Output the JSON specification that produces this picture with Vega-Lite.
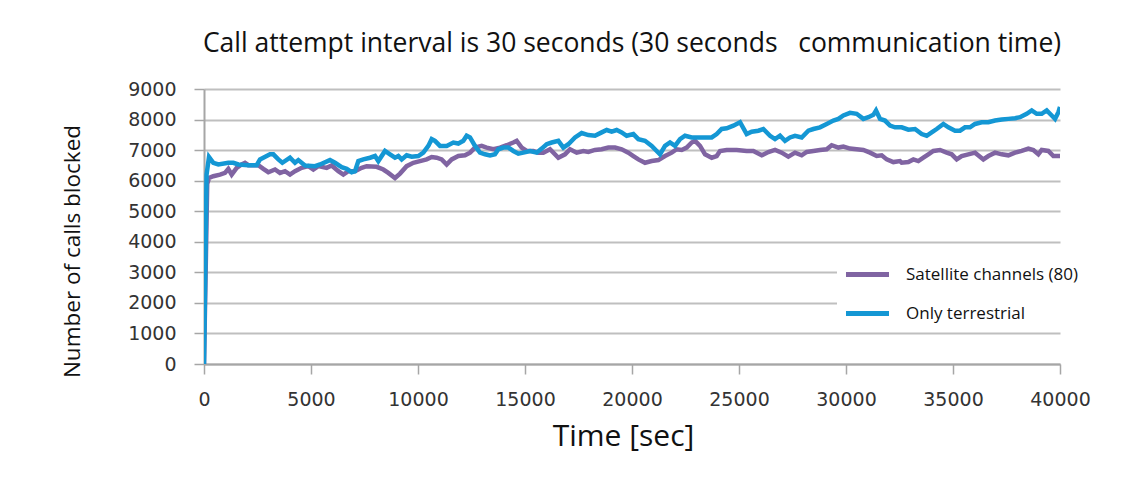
{
  "$schema": "https://vega.github.io/schema/vega-lite/v6.json",
  "width": 856,
  "height": 275,
  "autosize": {"type": "none"},
  "padding": {"left": 204, "top": 89, "right": 66, "bottom": 115},
  "background": "white",
  "title": {
    "text": "Call attempt interval is 30 seconds (30 seconds\u00a0\u00a0 communication time)",
    "font": "Open Sans",
    "fontSize": 26.5,
    "fontWeight": "normal",
    "color": "#111111",
    "anchor": "middle",
    "offset": 23
  },
  "config": {
    "view": {"stroke": null},
    "axis": {
      "labelFont": "DejaVu Sans",
      "labelFontSize": 19,
      "labelColor": "#333333",
      "tickColor": "#a6a6a6",
      "tickWidth": 1.5,
      "tickSize": 10,
      "domainColor": "#a6a6a6",
      "domainWidth": 2,
      "titleFont": "Open Sans",
      "titleFontWeight": "normal",
      "titleColor": "#111111",
      "labelFlush": false
    }
  },
  "datasets": {
    "sat": [
      {"t":0,"v":0},{"t":150,"v":5900},{"t":234,"v":6088},{"t":436,"v":6144},{"t":748,"v":6199},{"t":981,"v":6254},{"t":1137,"v":6387},{"t":1293,"v":6199},{"t":1526,"v":6420},{"t":1760,"v":6530},{"t":1916,"v":6586},{"t":2072,"v":6508},{"t":2539,"v":6508},{"t":2773,"v":6387},{"t":3006,"v":6276},{"t":3318,"v":6365},{"t":3551,"v":6254},{"t":3785,"v":6309},{"t":4019,"v":6199},{"t":4252,"v":6309},{"t":4564,"v":6420},{"t":4876,"v":6475},{"t":5109,"v":6365},{"t":5343,"v":6475},{"t":5732,"v":6420},{"t":5966,"v":6497},{"t":6278,"v":6309},{"t":6511,"v":6199},{"t":6745,"v":6309},{"t":7056,"v":6309},{"t":7368,"v":6420},{"t":7601,"v":6475},{"t":8069,"v":6453},{"t":8380,"v":6365},{"t":8614,"v":6254},{"t":8925,"v":6088},{"t":9159,"v":6232},{"t":9470,"v":6475},{"t":9782,"v":6586},{"t":10093,"v":6641},{"t":10405,"v":6696},{"t":10639,"v":6773},{"t":10872,"v":6751},{"t":11106,"v":6696},{"t":11340,"v":6530},{"t":11573,"v":6696},{"t":11885,"v":6806},{"t":12197,"v":6829},{"t":12430,"v":6917},{"t":12664,"v":7083},{"t":12976,"v":7138},{"t":13209,"v":7083},{"t":13521,"v":7028},{"t":13832,"v":7083},{"t":14144,"v":7160},{"t":14455,"v":7249},{"t":14611,"v":7304},{"t":14845,"v":7083},{"t":15078,"v":6972},{"t":15390,"v":6972},{"t":15623,"v":6917},{"t":15857,"v":6917},{"t":16169,"v":7028},{"t":16558,"v":6751},{"t":16870,"v":6862},{"t":17103,"v":7028},{"t":17415,"v":6917},{"t":17727,"v":6972},{"t":17960,"v":6939},{"t":18271,"v":7005},{"t":18583,"v":7028},{"t":18895,"v":7083},{"t":19206,"v":7083},{"t":19518,"v":7028},{"t":19829,"v":6917},{"t":20063,"v":6806},{"t":20297,"v":6696},{"t":20608,"v":6586},{"t":20920,"v":6641},{"t":21231,"v":6674},{"t":21543,"v":6806},{"t":21854,"v":6917},{"t":22088,"v":7028},{"t":22322,"v":7005},{"t":22555,"v":7083},{"t":22789,"v":7249},{"t":22945,"v":7304},{"t":23178,"v":7138},{"t":23412,"v":6862},{"t":23724,"v":6751},{"t":23957,"v":6806},{"t":24113,"v":6972},{"t":24425,"v":7005},{"t":24892,"v":7005},{"t":25359,"v":6972},{"t":25671,"v":6972},{"t":26060,"v":6829},{"t":26372,"v":6939},{"t":26683,"v":7005},{"t":26995,"v":6917},{"t":27306,"v":6784},{"t":27618,"v":6917},{"t":27929,"v":6829},{"t":28163,"v":6939},{"t":28475,"v":6972},{"t":28786,"v":7005},{"t":29098,"v":7028},{"t":29331,"v":7160},{"t":29643,"v":7083},{"t":29877,"v":7116},{"t":30188,"v":7050},{"t":30500,"v":7028},{"t":30811,"v":7005},{"t":31123,"v":6917},{"t":31434,"v":6806},{"t":31668,"v":6829},{"t":31902,"v":6696},{"t":32213,"v":6608},{"t":32524,"v":6641},{"t":32603,"v":6586},{"t":32914,"v":6608},{"t":33148,"v":6696},{"t":33381,"v":6641},{"t":33615,"v":6751},{"t":33849,"v":6862},{"t":34082,"v":6972},{"t":34394,"v":7005},{"t":34705,"v":6917},{"t":34939,"v":6862},{"t":35173,"v":6696},{"t":35406,"v":6806},{"t":35718,"v":6862},{"t":36029,"v":6917},{"t":36419,"v":6696},{"t":36653,"v":6806},{"t":36964,"v":6917},{"t":37276,"v":6862},{"t":37587,"v":6829},{"t":37899,"v":6917},{"t":38210,"v":6972},{"t":38522,"v":7050},{"t":38755,"v":7005},{"t":38989,"v":6862},{"t":39145,"v":7005},{"t":39456,"v":6972},{"t":39690,"v":6806},{"t":40000,"v":6806}
    ],
    "ter": [
      {"t":0,"v":0},{"t":120,"v":6200},{"t":234,"v":6773},{"t":436,"v":6586},{"t":670,"v":6530},{"t":1137,"v":6586},{"t":1371,"v":6586},{"t":1604,"v":6530},{"t":2072,"v":6508},{"t":2461,"v":6508},{"t":2617,"v":6696},{"t":3084,"v":6862},{"t":3240,"v":6862},{"t":3474,"v":6696},{"t":3661,"v":6586},{"t":4019,"v":6751},{"t":4252,"v":6586},{"t":4408,"v":6674},{"t":4720,"v":6497},{"t":5187,"v":6475},{"t":5421,"v":6530},{"t":5888,"v":6674},{"t":6122,"v":6586},{"t":6433,"v":6442},{"t":6667,"v":6387},{"t":6901,"v":6276},{"t":7056,"v":6309},{"t":7212,"v":6641},{"t":7446,"v":6696},{"t":7757,"v":6751},{"t":7991,"v":6806},{"t":8146,"v":6641},{"t":8458,"v":6972},{"t":8692,"v":6862},{"t":8925,"v":6751},{"t":9081,"v":6806},{"t":9237,"v":6696},{"t":9470,"v":6829},{"t":9704,"v":6784},{"t":10016,"v":6806},{"t":10249,"v":6917},{"t":10483,"v":7138},{"t":10639,"v":7359},{"t":10794,"v":7304},{"t":11028,"v":7138},{"t":11340,"v":7138},{"t":11651,"v":7249},{"t":11885,"v":7215},{"t":12119,"v":7304},{"t":12274,"v":7470},{"t":12430,"v":7414},{"t":12664,"v":7138},{"t":12897,"v":6917},{"t":13131,"v":6862},{"t":13365,"v":6829},{"t":13598,"v":6862},{"t":13754,"v":7028},{"t":13988,"v":7083},{"t":14222,"v":7083},{"t":14455,"v":6972},{"t":14689,"v":6884},{"t":14922,"v":6917},{"t":15234,"v":6972},{"t":15546,"v":6917},{"t":15780,"v":7050},{"t":16013,"v":7193},{"t":16247,"v":7249},{"t":16558,"v":7304},{"t":16792,"v":7083},{"t":17025,"v":7193},{"t":17337,"v":7414},{"t":17648,"v":7558},{"t":17960,"v":7492},{"t":18271,"v":7470},{"t":18583,"v":7580},{"t":18817,"v":7658},{"t":19050,"v":7602},{"t":19284,"v":7658},{"t":19518,"v":7580},{"t":19751,"v":7470},{"t":20063,"v":7525},{"t":20297,"v":7359},{"t":20608,"v":7304},{"t":20920,"v":7138},{"t":21153,"v":6972},{"t":21309,"v":6862},{"t":21543,"v":7138},{"t":21776,"v":7249},{"t":22010,"v":7138},{"t":22244,"v":7359},{"t":22477,"v":7470},{"t":22789,"v":7414},{"t":23100,"v":7414},{"t":23412,"v":7414},{"t":23724,"v":7414},{"t":23957,"v":7525},{"t":24191,"v":7691},{"t":24425,"v":7713},{"t":24736,"v":7801},{"t":25048,"v":7912},{"t":25359,"v":7525},{"t":25593,"v":7602},{"t":25904,"v":7635},{"t":26138,"v":7691},{"t":26450,"v":7470},{"t":26683,"v":7359},{"t":26917,"v":7470},{"t":27150,"v":7304},{"t":27384,"v":7414},{"t":27618,"v":7470},{"t":27929,"v":7414},{"t":28241,"v":7635},{"t":28475,"v":7691},{"t":28786,"v":7746},{"t":29098,"v":7856},{"t":29409,"v":7967},{"t":29643,"v":8022},{"t":29877,"v":8133},{"t":30188,"v":8221},{"t":30500,"v":8188},{"t":30811,"v":8022},{"t":31045,"v":8077},{"t":31278,"v":8155},{"t":31403,"v":8298},{"t":31590,"v":8022},{"t":31824,"v":7967},{"t":32057,"v":7801},{"t":32291,"v":7746},{"t":32603,"v":7746},{"t":32914,"v":7669},{"t":33226,"v":7691},{"t":33537,"v":7525},{"t":33771,"v":7470},{"t":34004,"v":7580},{"t":34238,"v":7691},{"t":34550,"v":7856},{"t":34783,"v":7746},{"t":35095,"v":7635},{"t":35328,"v":7635},{"t":35562,"v":7746},{"t":35796,"v":7746},{"t":36029,"v":7856},{"t":36341,"v":7912},{"t":36653,"v":7912},{"t":36964,"v":7967},{"t":37276,"v":8000},{"t":37587,"v":8022},{"t":37899,"v":8044},{"t":38132,"v":8077},{"t":38444,"v":8188},{"t":38678,"v":8298},{"t":38911,"v":8188},{"t":39145,"v":8188},{"t":39379,"v":8298},{"t":39612,"v":8133},{"t":39768,"v":8022},{"t":39924,"v":8243},{"t":40000,"v":8409}
    ]
  },
  "encoding": {
    "x": {
      "field": "t",
      "type": "quantitative",
      "scale": {"domain": [0, 40000], "nice": false},
      "axis": {
        "values": [0, 5000, 10000, 15000, 20000, 25000, 30000, 35000, 40000],
        "format": "d",
        "grid": false,
        "labelPadding": 16,
        "title": "Time [sec]",
        "titleFontSize": 30,
        "titlePadding": 12,
        "titleX": 419
      }
    },
    "y": {
      "field": "v",
      "type": "quantitative",
      "scale": {"domain": [0, 9000], "nice": false},
      "axis": {
        "values": [0, 1000, 2000, 3000, 4000, 5000, 6000, 7000, 8000, 9000],
        "format": "d",
        "grid": true,
        "gridColor": "#bfbfbf",
        "gridWidth": 2,
        "labelPadding": 18,
        "title": "Number of calls blocked",
        "titleFontSize": 22.5,
        "titleX": -132,
        "titleY": 162,
        "titleAngle": 270,
        "titleAlign": "center",
        "titleBaseline": "middle"
      }
    },
    "color": {
      "type": "nominal",
      "scale": {
        "domain": ["Satellite channels (80)", "Only terrestrial"],
        "range": ["#8064a2", "#1497d4"]
      },
      "legend": {
        "title": null,
        "orient": "none",
        "legendX": 633,
        "legendY": 155,
        "fillColor": "white",
        "padding": 6,
        "symbolType": "stroke",
        "symbolSize": 1850,
        "symbolStrokeWidth": 5,
        "labelFont": "Open Sans",
        "labelFontSize": 17,
        "labelColor": "#111111",
        "labelLimit": 400,
        "labelOffset": 14,
        "rowPadding": 4
      }
    }
  },
  "layer": [
    {
      "data": {"name": "sat"},
      "mark": {"type": "line", "strokeWidth": 4.5, "clip": true},
      "encoding": {"color": {"datum": "Satellite channels (80)"}}
    },
    {
      "data": {"name": "ter"},
      "mark": {"type": "line", "strokeWidth": 4.5, "clip": true},
      "encoding": {"color": {"datum": "Only terrestrial"}}
    }
  ]
}
